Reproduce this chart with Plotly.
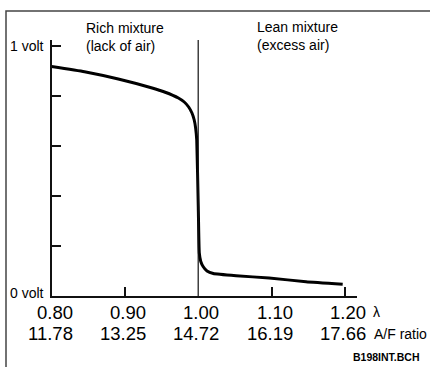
import plotly.graph_objects as go

W, H = 430, 367
FONT = "Liberation Sans, Arial, sans-serif"

# Data
lambda_vals = [0.80, 0.845, 0.891, 0.936, 0.955, 0.973, 0.981, 0.987, 0.9915, 0.9945, 0.9965,
               0.998, 1.0001, 1.0015, 1.0035, 1.0069, 1.012, 1.0206, 1.0517, 1.0967, 1.147, 1.197]
sensor_volts = [0.918, 0.897, 0.868, 0.833, 0.815, 0.792, 0.776, 0.756, 0.732, 0.705, 0.672,
                0.624, 0.357, 0.172, 0.138, 0.117, 0.10, 0.090, 0.081, 0.072, 0.057, 0.047]

lambda_ticks = [0.80, 0.90, 1.00, 1.10, 1.20]
lambda_labels = ["0.80", "0.90", "1.00", "1.10", "1.20"]
af_labels = ["11.78", "13.25", "14.72", "16.19", "17.66"]
y_tick_vals = [0.2, 0.4, 0.6, 0.8, 1.0]
x_tick_vals = [0.90, 1.10, 1.20]

def px(x):
    return x / W

def py(y):
    return (H - y) / H

fig = go.Figure()
fig.add_trace(go.Scatter(x=lambda_vals, y=sensor_volts, mode="lines",
                         line=dict(color="black", width=3, shape="spline", smoothing=0.4),
                         hoverinfo="skip", showlegend=False))

fig.update_layout(
    width=W, height=H, margin=dict(l=0, r=0, t=0, b=0),
    paper_bgcolor="white", plot_bgcolor="white",
    font=dict(family=FONT, color="black"),
    xaxis=dict(domain=[px(51.5), px(357)], range=[0.80, 1.2165],
               showgrid=False, zeroline=False, showline=True, linecolor="#111", linewidth=2,
               tickvals=x_tick_vals, ticks="inside", ticklen=9, tickwidth=1.5, tickcolor="#111",
               showticklabels=False),
    yaxis=dict(domain=[py(296), py(40)], range=[0, 1.024],
               showgrid=False, zeroline=False, showline=True, linecolor="#111", linewidth=2,
               tickvals=y_tick_vals, ticks="inside", ticklen=9, tickwidth=1.5, tickcolor="#111",
               showticklabels=False),
    showlegend=False,
)

fig.add_shape(type="line", xref="x", yref="y", x0=1.0, x1=1.0, y0=0, y1=1.032,
              line=dict(color="#111", width=1.2))
# outer frame (left and top edges visible in the reference)
fig.add_shape(type="rect", xref="paper", yref="paper", x0=px(6), x1=1.1, y0=-0.1, y1=py(11),
              line=dict(color="#444", width=1.5), fillcolor="rgba(0,0,0,0)", layer="above")

ann = []
for v, l1, l2 in zip(lambda_ticks, lambda_labels, af_labels):
    ann.append(dict(x=v, xref="x", y=py(312), yref="paper", text=l1, showarrow=False,
                    xanchor="right", yanchor="middle", xshift=23, font=dict(size=18.5)))
    ann.append(dict(x=v, xref="x", y=py(333), yref="paper", text=l2, showarrow=False,
                    xanchor="right", yanchor="middle", xshift=23, font=dict(size=18.5)))
ann += [
    dict(x=px(371), y=py(312), xref="paper", yref="paper", text="λ", showarrow=False,
         xanchor="left", yanchor="middle", font=dict(size=14)),
    dict(x=px(372), y=py(334), xref="paper", yref="paper", text="A/F ratio", showarrow=False,
         xanchor="left", yanchor="middle", font=dict(size=14)),
    dict(x=px(386), y=py(357), xref="paper", yref="paper", text="<b>B198INT.BCH</b>",
         showarrow=False, xanchor="center", yanchor="middle", font=dict(size=10.5)),
    dict(x=px(46), y=1.0, xref="paper", yref="y", text="1 volt", showarrow=False,
         xanchor="right", yanchor="middle", font=dict(size=14)),
    dict(x=px(46), y=0.012, xref="paper", yref="y", text="0 volt", showarrow=False,
         xanchor="right", yanchor="middle", font=dict(size=14)),
    dict(x=px(84), y=py(28), xref="paper", yref="paper", text="Rich mixture", showarrow=False,
         xanchor="left", yanchor="middle", font=dict(size=14)),
    dict(x=px(84), y=py(46), xref="paper", yref="paper", text="(lack of air)", showarrow=False,
         xanchor="left", yanchor="middle", font=dict(size=14)),
    dict(x=px(255), y=py(27), xref="paper", yref="paper", text="Lean mixture", showarrow=False,
         xanchor="left", yanchor="middle", font=dict(size=14)),
    dict(x=px(255), y=py(45), xref="paper", yref="paper", text="(excess air)", showarrow=False,
         xanchor="left", yanchor="middle", font=dict(size=14)),
]
fig.update_layout(annotations=ann)

fig.write_html("out.html", config={"displayModeBar": False},
               post_script="document.body.style.margin='0';document.body.style.overflow='hidden';")
